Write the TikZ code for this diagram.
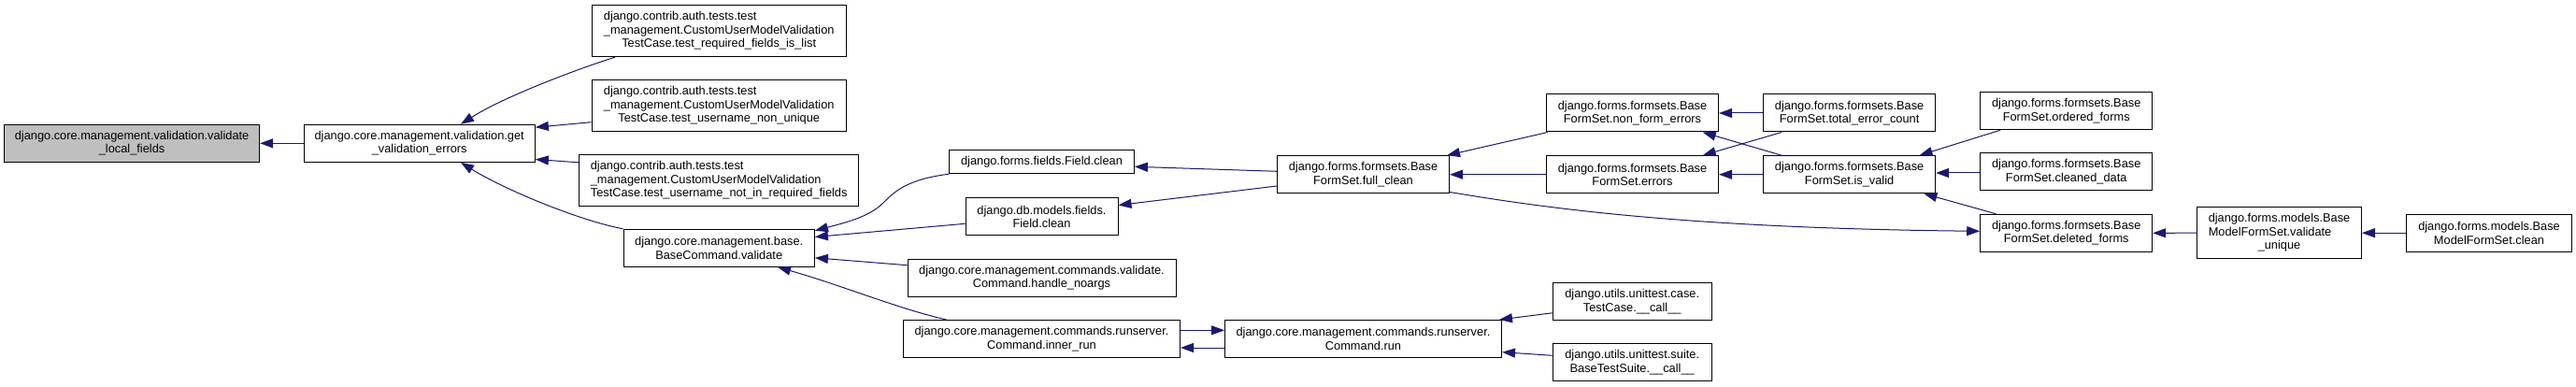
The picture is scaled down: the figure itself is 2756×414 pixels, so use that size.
\documentclass[tikz,border=0pt]{standalone}
\usepackage{fontspec}
\setmainfont{Liberation Sans}
\usetikzlibrary{arrows.meta,calc}
\definecolor{edgec}{HTML}{191970}
\definecolor{rootfill}{HTML}{BFBFBF}
\newcommand\lblL[3]{\begin{tabular}{@{}l@{}}#1\\#2\\\multicolumn{1}{@{}c@{}}{#3}\end{tabular}}
\begin{document}
\begin{tikzpicture}[x=1pt,y=-1pt,
  fn/.style={draw=black, line width=1pt, fill=white, inner sep=0pt, align=center,
    font=\fontsize{12.8}{14.5}\selectfont},
  call/.style={draw=edgec, line width=1pt, -{Triangle[length=14pt,width=10pt]}}]
\fill[white] (0,0) rectangle (2756,414);
\useasboundingbox (0,0) rectangle (2756,414);

% nodes
\node[fn, fill=rootfill, minimum width=273.2pt, minimum height=40pt] (N1) at (141.1,153.3)
  {django.core.management.validation.validate\\\_local\_fields};
\node[fn, minimum width=247.3pt, minimum height=40pt] (N2) at (448.7,153.3)
  {django.core.management.validation.get\\\_validation\_errors};
\node[fn, minimum width=272.4pt, minimum height=55pt] (T1) at (769.2,33.2)
  {\lblL{django.contrib.auth.tests.test}{\_management.CustomUserModelValidation}{TestCase.test\_required\_fields\_is\_list}};
\node[fn, minimum width=272.4pt, minimum height=55pt] (T2) at (769.2,113.2)
  {\lblL{django.contrib.auth.tests.test}{\_management.CustomUserModelValidation}{TestCase.test\_username\_non\_unique}};
\node[fn, minimum width=299.2pt, minimum height=55pt] (T3) at (769.2,193.2)
  {\lblL{django.contrib.auth.tests.test}{\_management.CustomUserModelValidation}{TestCase.test\_username\_not\_in\_required\_fields}};
\node[fn, minimum width=204.4pt, minimum height=40pt] (BC) at (769.2,265.3)
  {django.core.management.base.\\BaseCommand.validate};
\node[fn, minimum width=197.8pt, minimum height=25pt] (FFC) at (1114.5,173.2)
  {django.forms.fields.Field.clean};
\node[fn, minimum width=163pt, minimum height=40pt] (DMF) at (1114.5,231.7)
  {django.db.models.fields.\\Field.clean};
\node[fn, minimum width=287pt, minimum height=40pt] (HNA) at (1114.5,297)
  {django.core.management.commands.validate.\\Command.handle\_noargs};
\node[fn, minimum width=296pt, minimum height=40pt] (IR) at (1114.5,362.5)
  {django.core.management.commands.runserver.\\Command.inner\_run};
\node[fn, minimum width=184pt, minimum height=40pt] (FC) at (1458.5,186.7)
  {django.forms.formsets.Base\\FormSet.full\_clean};
\node[fn, minimum width=296pt, minimum height=40pt] (RUN) at (1458.5,362.5)
  {django.core.management.commands.runserver.\\Command.run};
\node[fn, minimum width=184pt, minimum height=40pt] (NFE) at (1746.5,121)
  {django.forms.formsets.Base\\FormSet.non\_form\_errors};
\node[fn, minimum width=184pt, minimum height=40pt] (ERR) at (1746.5,186.7)
  {django.forms.formsets.Base\\FormSet.errors};
\node[fn, minimum width=170pt, minimum height=40pt] (TCC) at (1746.2,322.7)
  {django.utils.unittest.case.\\TestCase.\_\_call\_\_};
\node[fn, minimum width=170pt, minimum height=40pt] (BTS) at (1746.2,387.8)
  {django.utils.unittest.suite.\\BaseTestSuite.\_\_call\_\_};
\node[fn, minimum width=184pt, minimum height=40pt] (TEC) at (1978.6,121)
  {django.forms.formsets.Base\\FormSet.total\_error\_count};
\node[fn, minimum width=184pt, minimum height=40pt] (ISV) at (1978.6,186.7)
  {django.forms.formsets.Base\\FormSet.is\_valid};
\node[fn, minimum width=184pt, minimum height=40pt] (ORD) at (2210.7,118.7)
  {django.forms.formsets.Base\\FormSet.ordered\_forms};
\node[fn, minimum width=184pt, minimum height=40pt] (CD) at (2210.7,183.8)
  {django.forms.formsets.Base\\FormSet.cleaned\_data};
\node[fn, minimum width=184pt, minimum height=40pt] (DEL) at (2210.7,249.3)
  {django.forms.formsets.Base\\FormSet.deleted\_forms};
\node[fn, minimum width=176pt, minimum height=55pt] (VU) at (2438.5,249.2)
  {\lblL{django.forms.models.Base}{ModelFormSet.validate}{\_unique}};
\node[fn, minimum width=176.5pt, minimum height=40pt] (MCL) at (2663,249.2)
  {django.forms.models.Base\\ModelFormSet.clean};

% connectors
\draw[call] (N2.west) -- (N1.east);
\draw[call] ($(T1.south west)+(25.5,0)$) .. controls (620,73) and (540,103) .. ($(N2.north)+(44.3,0)$);
\draw[call] ($(T2.west)+(0,17.5)$) -- ($(N2.north east)+(0,3.4)$);
\draw[call] ($(T3.north west)+(0,8.6)$) -- ($(N2.south east)+(0,-3.3)$);
\draw[call] (BC.north west) .. controls (620,236) and (540,203) .. ($(N2.south)+(44.3,0)$);
\draw[call] (FFC.south west) .. controls (970,192) and (957,205) .. (945,217)
  .. controls (930,232) and (905,238) .. ($(BC.north east)+(0,2)$);
\draw[call] ($(DMF.west)+(0,7.6)$) -- ($(BC.north east)+(0,8.7)$);
\draw[call] ($(HNA.west)+(0,-13.3)$) -- ($(BC.south east)+(0,-10)$);
\draw[call] ($(IR.north west)+(46.5,0)$) .. controls (960,330) and (900,305) .. ($(BC.south)+(62.8,0)$);
\draw[call] ($(IR.east)+(0,-9.2)$) -- ($(RUN.west)+(0,-9.2)$);
\draw[call] ($(RUN.west)+(0,9.5)$) -- ($(IR.east)+(0,9.5)$);
\draw[call] ($(FC.west)+(0,-3.4)$) -- ($(FFC.east)+(0,5.1)$);
\draw[call] ($(FC.west)+(0,12.3)$) -- ($(DMF.north east)+(0,8.3)$);
\draw[call] ($(NFE.south west)+(1.8,0)$) -- ($(FC.north east)+(-3,0)$);
\draw[call] (ERR.west) -- (FC.east);
\draw[call] ($(FC.south east)+(0,-1.7)$) .. controls (1650,222) and (1800,244) .. ($(DEL.west)+(0,-2)$);
\draw[call] (TEC.west) -- (NFE.east);
\draw[call] ($(ISV.north west)+(20,0)$) -- ($(NFE.south east)+(-17.3,0)$);
\draw[call] ($(TEC.south west)+(20,0)$) -- ($(ERR.north east)+(-17.3,0)$);
\draw[call] (ISV.west) -- (ERR.east);
\draw[call] ($(ORD.south west)+(22,0)$) -- ($(ISV.north east)+(-17.6,0)$);
\draw[call] ($(CD.west)+(0,1.2)$) -- ($(ISV.east)+(0,-1.7)$);
\draw[call] ($(DEL.north west)+(17.3,0)$) -- ($(ISV.south east)+(-12.7,0)$);
\draw[call] (VU.west) -- (DEL.east);
\draw[call] (MCL.west) -- (VU.east);
\draw[call] ($(TCC.south west)+(0,-8.4)$) -- ($(RUN.north east)+(-3,0)$);
\draw[call] ($(BTS.west)+(0,-7.5)$) -- ($(RUN.east)+(0,14.2)$);
\end{tikzpicture}
\end{document}
